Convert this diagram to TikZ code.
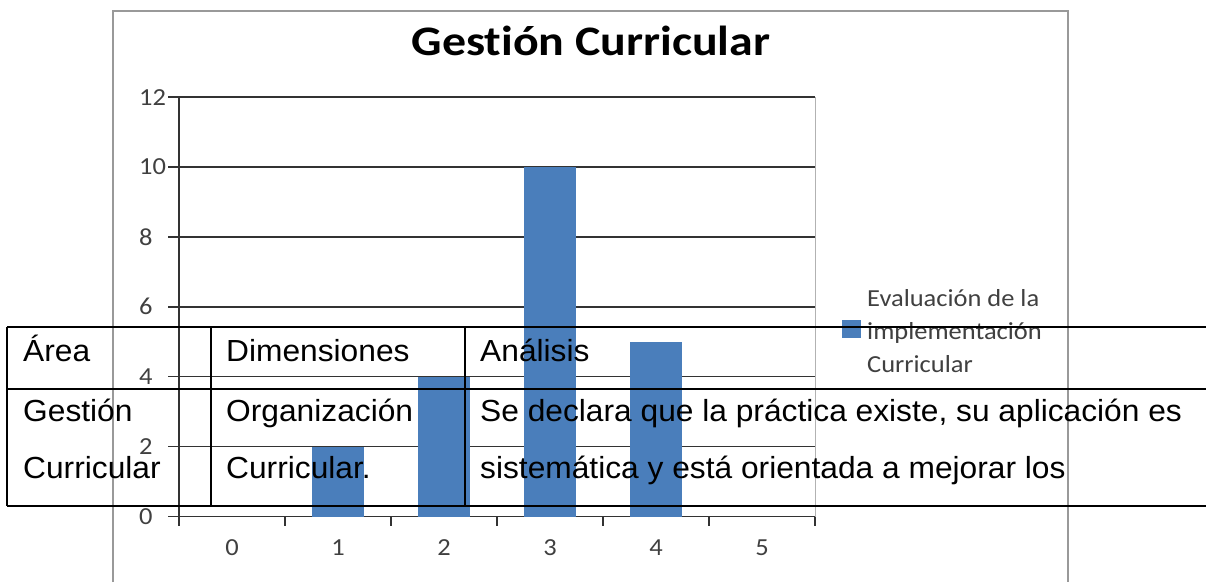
\documentclass[tikz,border=0pt]{standalone}
\usepackage{fontspec}
\usepackage{xcolor}
\newfontfamily\chartfont[FakeStretch=1.08, Ligatures=NoCommon]{Carlito}
\newfontfamily\titlefont[FakeStretch=1.14, Ligatures=NoCommon]{Carlito}
\newfontfamily\tablefont[FakeStretch=1.04]{Liberation Sans}
\definecolor{barblue}{HTML}{4A7EBB}
\definecolor{labelgray}{HTML}{404040}
\definecolor{framegray}{HTML}{999999}

\begin{document}
\begin{tikzpicture}[x=1pt, y=-1pt,
   axislabel/.style={font=\chartfont\fontsize{24.5}{28}\selectfont, text=labelgray, inner sep=0pt},
   celltext/.style={font=\tablefont\fontsize{30.5}{34}\selectfont, anchor=base west, inner sep=0pt},
   gridline/.style={line width=1.5pt, draw=black!80},
   tableline/.style={line width=2pt, draw=black}]

\useasboundingbox (0,0) rectangle (1206,582);

%marco
\draw [framegray, line width=1.3pt] (113,582) -- (113,11) -- (1068,11) -- (1068,582);

%titulo
\path (591,55) node [anchor = base, font=\titlefont\bfseries\fontsize{42}{46}\selectfont] (titulo) {Gestión Curricular};

%grilla
\draw [black!30] (815,97) -- (815,516.5);
\foreach \v in {0,2,...,12}
   {\draw [gridline] (168,516.5-34.95*\v) -- (815,516.5-34.95*\v);
    \path (139,516.5-34.95*\v) node [axislabel, anchor = west] (y\v) {\v};
   }

%ejes
\draw [gridline] (179,97) -- (179,526);
\foreach \i in {0,...,6}
   {\draw [gridline] (179+106*\i,516.5) -- (179+106*\i,526);
   }
\foreach \i in {0,...,5}
   {\path (232+106*\i,548) node [axislabel] (x\i) {\i};
   }

%barras
\foreach \i/\h in {1/2,2/4,3/10,4/5}
   {\fill [barblue] (206+106*\i,516.5) rectangle (258+106*\i,516.5-34.95*\h);
   }

%leyenda
\fill [barblue] (842,320) rectangle (861,338);
\path (867,306) node [axislabel, anchor = base west] (ley1) {Evaluación de la};
\path (867,339) node [axislabel, anchor = base west] (ley2) {implementación};
\path (867,372) node [axislabel, anchor = base west] (ley3) {Curricular};

%tabla
\foreach \y in {327,389,506}
   {\draw [tableline] (7,\y) -- (1210,\y);
   }
\foreach \x in {7,211,465}
   {\draw [tableline] (\x,327) -- (\x,506);
   }

%textos tabla
\path (23,361) node [celltext] (area) {Área};
\path (226,361) node [celltext] (dim) {Dimensiones};
\path (480,361) node [celltext] (anal) {Análisis};
\path (23,421) node [celltext] (gest1) {Gestión};
\path (23,478) node [celltext] (gest2) {Curricular};
\path (226,421) node [celltext] (org1) {Organización};
\path (226,478) node [celltext] (org2) {Curricular.};
\path (480,421) node [celltext] (txt1) {Se declara que la práctica existe, su aplicación es};
\path (480,478) node [celltext] (txt2) {sistemática y está orientada a mejorar los};

\end{tikzpicture}
\end{document}
